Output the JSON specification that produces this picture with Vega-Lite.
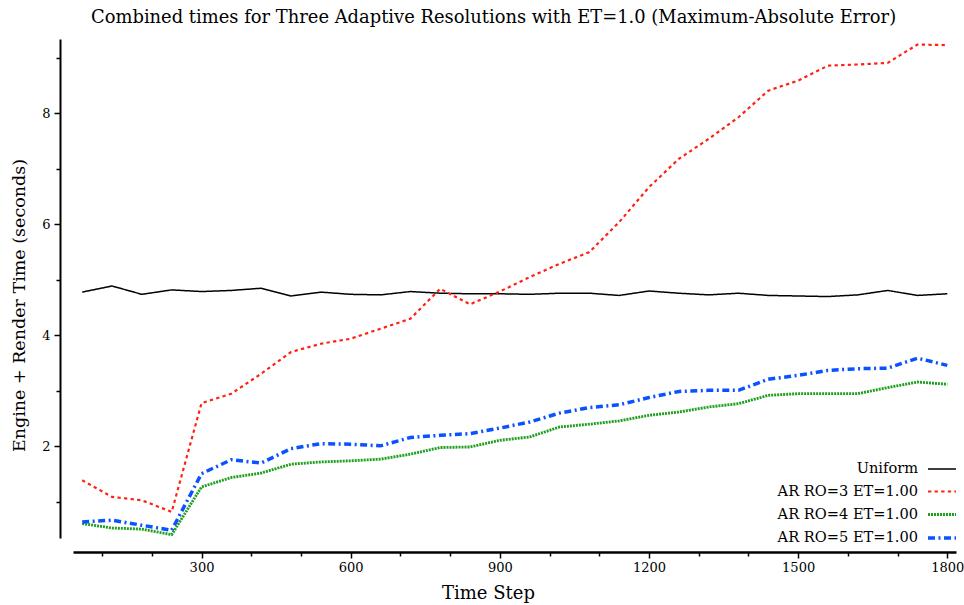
{
  "$schema": "https://vega.github.io/schema/vega-lite/v6.json",
  "width": 883,
  "height": 499,
  "autosize": {"type": "none"},
  "padding": {"left": 73, "top": 39, "right": 8, "bottom": 67},
  "background": "white",
  "title": {
    "text": "Combined times for Three Adaptive Resolutions with ET=1.0 (Maximum-Absolute Error)",
    "font": "DejaVu Serif",
    "fontSize": 17.9,
    "fontWeight": "normal",
    "color": "black",
    "anchor": "start",
    "frame": "group",
    "dx": 18,
    "offset": 12
  },
  "data": {
    "values": [
      {"step": 60, "series": "Uniform", "time": 4.78},
      {"step": 120, "series": "Uniform", "time": 4.89},
      {"step": 180, "series": "Uniform", "time": 4.74},
      {"step": 240, "series": "Uniform", "time": 4.82},
      {"step": 300, "series": "Uniform", "time": 4.79},
      {"step": 360, "series": "Uniform", "time": 4.81},
      {"step": 420, "series": "Uniform", "time": 4.85},
      {"step": 480, "series": "Uniform", "time": 4.71},
      {"step": 540, "series": "Uniform", "time": 4.78},
      {"step": 600, "series": "Uniform", "time": 4.74},
      {"step": 660, "series": "Uniform", "time": 4.73},
      {"step": 720, "series": "Uniform", "time": 4.79},
      {"step": 780, "series": "Uniform", "time": 4.76},
      {"step": 840, "series": "Uniform", "time": 4.75},
      {"step": 900, "series": "Uniform", "time": 4.75},
      {"step": 960, "series": "Uniform", "time": 4.74},
      {"step": 1020, "series": "Uniform", "time": 4.76},
      {"step": 1080, "series": "Uniform", "time": 4.76},
      {"step": 1140, "series": "Uniform", "time": 4.72},
      {"step": 1200, "series": "Uniform", "time": 4.80},
      {"step": 1260, "series": "Uniform", "time": 4.76},
      {"step": 1320, "series": "Uniform", "time": 4.73},
      {"step": 1380, "series": "Uniform", "time": 4.76},
      {"step": 1440, "series": "Uniform", "time": 4.72},
      {"step": 1500, "series": "Uniform", "time": 4.71},
      {"step": 1560, "series": "Uniform", "time": 4.70},
      {"step": 1620, "series": "Uniform", "time": 4.73},
      {"step": 1680, "series": "Uniform", "time": 4.81},
      {"step": 1740, "series": "Uniform", "time": 4.72},
      {"step": 1800, "series": "Uniform", "time": 4.75},
      {"step": 60, "series": "AR RO=3 ET=1.00", "time": 1.39},
      {"step": 120, "series": "AR RO=3 ET=1.00", "time": 1.09},
      {"step": 180, "series": "AR RO=3 ET=1.00", "time": 1.03},
      {"step": 240, "series": "AR RO=3 ET=1.00", "time": 0.82},
      {"step": 300, "series": "AR RO=3 ET=1.00", "time": 2.78},
      {"step": 360, "series": "AR RO=3 ET=1.00", "time": 2.95},
      {"step": 420, "series": "AR RO=3 ET=1.00", "time": 3.31},
      {"step": 480, "series": "AR RO=3 ET=1.00", "time": 3.70},
      {"step": 540, "series": "AR RO=3 ET=1.00", "time": 3.85},
      {"step": 600, "series": "AR RO=3 ET=1.00", "time": 3.94},
      {"step": 660, "series": "AR RO=3 ET=1.00", "time": 4.12},
      {"step": 720, "series": "AR RO=3 ET=1.00", "time": 4.30},
      {"step": 780, "series": "AR RO=3 ET=1.00", "time": 4.84},
      {"step": 840, "series": "AR RO=3 ET=1.00", "time": 4.56},
      {"step": 900, "series": "AR RO=3 ET=1.00", "time": 4.79},
      {"step": 960, "series": "AR RO=3 ET=1.00", "time": 5.05},
      {"step": 1020, "series": "AR RO=3 ET=1.00", "time": 5.29},
      {"step": 1080, "series": "AR RO=3 ET=1.00", "time": 5.50},
      {"step": 1140, "series": "AR RO=3 ET=1.00", "time": 6.04},
      {"step": 1200, "series": "AR RO=3 ET=1.00", "time": 6.67},
      {"step": 1260, "series": "AR RO=3 ET=1.00", "time": 7.18},
      {"step": 1320, "series": "AR RO=3 ET=1.00", "time": 7.54},
      {"step": 1380, "series": "AR RO=3 ET=1.00", "time": 7.93},
      {"step": 1440, "series": "AR RO=3 ET=1.00", "time": 8.41},
      {"step": 1500, "series": "AR RO=3 ET=1.00", "time": 8.59},
      {"step": 1560, "series": "AR RO=3 ET=1.00", "time": 8.86},
      {"step": 1620, "series": "AR RO=3 ET=1.00", "time": 8.88},
      {"step": 1680, "series": "AR RO=3 ET=1.00", "time": 8.91},
      {"step": 1740, "series": "AR RO=3 ET=1.00", "time": 9.24},
      {"step": 1800, "series": "AR RO=3 ET=1.00", "time": 9.23},
      {"step": 60, "series": "AR RO=4 ET=1.00", "time": 0.61},
      {"step": 120, "series": "AR RO=4 ET=1.00", "time": 0.53},
      {"step": 180, "series": "AR RO=4 ET=1.00", "time": 0.51},
      {"step": 240, "series": "AR RO=4 ET=1.00", "time": 0.41},
      {"step": 300, "series": "AR RO=4 ET=1.00", "time": 1.27},
      {"step": 360, "series": "AR RO=4 ET=1.00", "time": 1.44},
      {"step": 420, "series": "AR RO=4 ET=1.00", "time": 1.52},
      {"step": 480, "series": "AR RO=4 ET=1.00", "time": 1.68},
      {"step": 540, "series": "AR RO=4 ET=1.00", "time": 1.72},
      {"step": 600, "series": "AR RO=4 ET=1.00", "time": 1.74},
      {"step": 660, "series": "AR RO=4 ET=1.00", "time": 1.77},
      {"step": 720, "series": "AR RO=4 ET=1.00", "time": 1.86},
      {"step": 780, "series": "AR RO=4 ET=1.00", "time": 1.98},
      {"step": 840, "series": "AR RO=4 ET=1.00", "time": 1.99},
      {"step": 900, "series": "AR RO=4 ET=1.00", "time": 2.11},
      {"step": 960, "series": "AR RO=4 ET=1.00", "time": 2.17},
      {"step": 1020, "series": "AR RO=4 ET=1.00", "time": 2.35},
      {"step": 1080, "series": "AR RO=4 ET=1.00", "time": 2.40},
      {"step": 1140, "series": "AR RO=4 ET=1.00", "time": 2.46},
      {"step": 1200, "series": "AR RO=4 ET=1.00", "time": 2.56},
      {"step": 1260, "series": "AR RO=4 ET=1.00", "time": 2.62},
      {"step": 1320, "series": "AR RO=4 ET=1.00", "time": 2.71},
      {"step": 1380, "series": "AR RO=4 ET=1.00", "time": 2.77},
      {"step": 1440, "series": "AR RO=4 ET=1.00", "time": 2.92},
      {"step": 1500, "series": "AR RO=4 ET=1.00", "time": 2.95},
      {"step": 1560, "series": "AR RO=4 ET=1.00", "time": 2.95},
      {"step": 1620, "series": "AR RO=4 ET=1.00", "time": 2.95},
      {"step": 1680, "series": "AR RO=4 ET=1.00", "time": 3.06},
      {"step": 1740, "series": "AR RO=4 ET=1.00", "time": 3.16},
      {"step": 1800, "series": "AR RO=4 ET=1.00", "time": 3.12},
      {"step": 60, "series": "AR RO=5 ET=1.00", "time": 0.64},
      {"step": 120, "series": "AR RO=5 ET=1.00", "time": 0.67},
      {"step": 180, "series": "AR RO=5 ET=1.00", "time": 0.58},
      {"step": 240, "series": "AR RO=5 ET=1.00", "time": 0.49},
      {"step": 300, "series": "AR RO=5 ET=1.00", "time": 1.51},
      {"step": 360, "series": "AR RO=5 ET=1.00", "time": 1.76},
      {"step": 420, "series": "AR RO=5 ET=1.00", "time": 1.70},
      {"step": 480, "series": "AR RO=5 ET=1.00", "time": 1.96},
      {"step": 540, "series": "AR RO=5 ET=1.00", "time": 2.05},
      {"step": 600, "series": "AR RO=5 ET=1.00", "time": 2.04},
      {"step": 660, "series": "AR RO=5 ET=1.00", "time": 2.01},
      {"step": 720, "series": "AR RO=5 ET=1.00", "time": 2.16},
      {"step": 780, "series": "AR RO=5 ET=1.00", "time": 2.20},
      {"step": 840, "series": "AR RO=5 ET=1.00", "time": 2.23},
      {"step": 900, "series": "AR RO=5 ET=1.00", "time": 2.33},
      {"step": 960, "series": "AR RO=5 ET=1.00", "time": 2.44},
      {"step": 1020, "series": "AR RO=5 ET=1.00", "time": 2.60},
      {"step": 1080, "series": "AR RO=5 ET=1.00", "time": 2.70},
      {"step": 1140, "series": "AR RO=5 ET=1.00", "time": 2.75},
      {"step": 1200, "series": "AR RO=5 ET=1.00", "time": 2.88},
      {"step": 1260, "series": "AR RO=5 ET=1.00", "time": 2.99},
      {"step": 1320, "series": "AR RO=5 ET=1.00", "time": 3.01},
      {"step": 1380, "series": "AR RO=5 ET=1.00", "time": 3.01},
      {"step": 1440, "series": "AR RO=5 ET=1.00", "time": 3.21},
      {"step": 1500, "series": "AR RO=5 ET=1.00", "time": 3.28},
      {"step": 1560, "series": "AR RO=5 ET=1.00", "time": 3.37},
      {"step": 1620, "series": "AR RO=5 ET=1.00", "time": 3.40},
      {"step": 1680, "series": "AR RO=5 ET=1.00", "time": 3.41},
      {"step": 1740, "series": "AR RO=5 ET=1.00", "time": 3.59},
      {"step": 1800, "series": "AR RO=5 ET=1.00", "time": 3.46}
    ]
  },
  "mark": {"type": "line", "interpolate": "linear", "clip": true},
  "encoding": {
    "x": {
      "field": "step",
      "type": "quantitative",
      "scale": {"domain": [41.5, 1817.5], "nice": false, "zero": false},
      "axis": {
        "title": "Time Step",
        "values": [100, 200, 300, 400, 500, 600, 700, 800, 900, 1000, 1100, 1200, 1300, 1400, 1500, 1600, 1700, 1800],
        "labelExpr": "datum.value % 300 === 0 ? datum.label : ''",
        "format": "d",
        "offset": 14,
        "grid": false,
        "domainColor": "black",
        "domainWidth": 2.5,
        "tickColor": "black",
        "tickWidth": 1.5,
        "tickSize": {"condition": {"test": "datum.value % 300 === 0", "value": 6}, "value": 4},
        "labelPadding": 3,
        "labelFont": "DejaVu Serif",
        "labelFontSize": 13,
        "labelColor": "black",
        "labelFlush": false,
        "labelOverlap": false,
        "titleFont": "DejaVu Serif",
        "titleFontSize": 18,
        "titleFontWeight": "normal",
        "titleColor": "black",
        "titleX": 415,
        "titlePadding": 10
      }
    },
    "y": {
      "field": "time",
      "type": "quantitative",
      "scale": {"domain": [0.35, 9.34], "nice": false, "zero": false},
      "axis": {
        "title": "Engine + Render Time (seconds)",
        "values": [1, 2, 3, 4, 5, 6, 7, 8, 9],
        "labelExpr": "datum.value % 2 === 0 ? datum.label : ''",
        "offset": 13,
        "grid": false,
        "domainColor": "black",
        "domainWidth": 2,
        "tickColor": "black",
        "tickWidth": 1.5,
        "tickSize": {"condition": {"test": "datum.value % 2 === 0", "value": 6}, "value": 4},
        "labelPadding": 4,
        "labelFont": "DejaVu Serif",
        "labelFontSize": 13,
        "labelColor": "black",
        "labelFlush": false,
        "labelOverlap": false,
        "titleFont": "DejaVu Serif",
        "titleFontSize": 17.5,
        "titleFontWeight": "normal",
        "titleColor": "black",
        "titleY": 266,
        "titlePadding": 13
      }
    },
    "color": {
      "field": "series",
      "type": "nominal",
      "scale": {
        "domain": ["Uniform", "AR RO=3 ET=1.00", "AR RO=4 ET=1.00", "AR RO=5 ET=1.00"],
        "range": ["#000000", "#ff2010", "#1f9f1f", "#0a52ff"]
      },
      "legend": {
        "title": null,
        "orient": "bottom-right",
        "offset": -7,
        "symbolType": "stroke",
        "symbolSize": 784,
        "labelAlign": "right",
        "labelOffset": -40,
        "labelFont": "DejaVu Serif",
        "labelFontSize": 14.6,
        "labelColor": "black",
        "labelLimit": 300,
        "rowPadding": 0,
        "padding": 0
      }
    },
    "strokeDash": {
      "field": "series",
      "type": "nominal",
      "scale": {
        "domain": ["Uniform", "AR RO=3 ET=1.00", "AR RO=4 ET=1.00", "AR RO=5 ET=1.00"],
        "range": [[1, 0], [3.3, 3.3], [2, 1], [7, 3.5, 2, 3.5]]
      },
      "legend": {
        "title": null,
        "orient": "bottom-right",
        "offset": -7,
        "symbolType": "stroke",
        "symbolSize": 784,
        "labelAlign": "right",
        "labelOffset": -40,
        "labelFont": "DejaVu Serif",
        "labelFontSize": 14.6,
        "labelColor": "black",
        "labelLimit": 300,
        "rowPadding": 0,
        "padding": 0
      }
    },
    "strokeWidth": {
      "field": "series",
      "type": "nominal",
      "scale": {
        "domain": ["Uniform", "AR RO=3 ET=1.00", "AR RO=4 ET=1.00", "AR RO=5 ET=1.00"],
        "range": [1.5, 3.5, 3, 3]
      },
      "legend": {
        "title": null,
        "orient": "bottom-right",
        "offset": -7,
        "symbolType": "stroke",
        "symbolSize": 784,
        "labelAlign": "right",
        "labelOffset": -40,
        "labelFont": "DejaVu Serif",
        "labelFontSize": 14.6,
        "labelColor": "black",
        "labelLimit": 300,
        "rowPadding": 0,
        "padding": 0
      }
    }
  },
  "config": {
    "view": {"stroke": null},
    "font": "DejaVu Serif"
  }
}
